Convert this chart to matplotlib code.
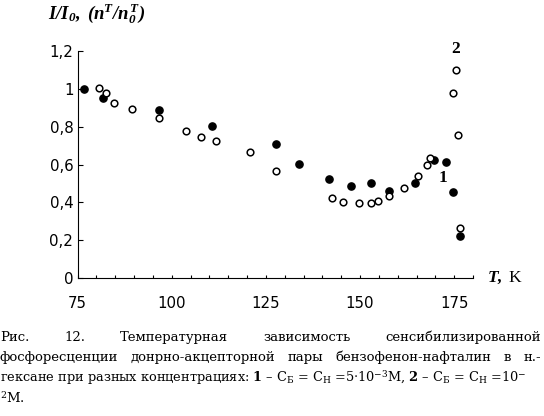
import numpy as np
import matplotlib
matplotlib.use("Agg")
import matplotlib.pyplot as plt
from matplotlib.ticker import MultipleLocator, FuncFormatter

plt.rcParams['mathtext.fontset'] = 'custom'
plt.rcParams['mathtext.rm'] = 'DejaVu Serif'
plt.rcParams['mathtext.bf'] = 'DejaVu Serif:bold'
plt.rcParams['mathtext.it'] = 'Liberation Serif:italic'
plt.rcParams['mathtext.bfit'] = 'Liberation Serif:italic:bold'

# series 1: C_B = C_N = 5e-3 M (filled)
T1 = np.array([76.6, 81.7, 96.5, 110.7, 127.6, 133.8, 141.8, 147.5, 152.8,
               157.7, 164.6, 169.7, 172.8, 174.7, 176.6])
I1 = np.array([1.00, 0.953, 0.889, 0.805, 0.707, 0.603, 0.526, 0.489, 0.505,
               0.459, 0.505, 0.626, 0.614, 0.453, 0.224])

# series 2: C_B = C_N = 1e-2 M (open)
T2 = np.array([80.8, 82.6, 84.6, 89.5, 96.5, 103.7, 107.7, 111.7, 120.7, 127.6,
               142.6, 145.6, 149.7, 152.8, 154.8, 157.7, 161.7, 165.5, 167.9,
               168.5, 174.7, 175.4, 175.9, 176.5])
I2 = np.array([1.005, 0.977, 0.926, 0.895, 0.844, 0.779, 0.747, 0.724, 0.665,
               0.565, 0.426, 0.405, 0.396, 0.396, 0.407, 0.433, 0.477, 0.537,
               0.600, 0.637, 0.977, 1.096, 0.758, 0.265])

fig = plt.figure(figsize=(5.44, 4.16), dpi=100)
ax = fig.add_axes([0.1425, 0.331, 0.727, 0.547])

ax.plot(T1, I1, 'o', color='black', ms=5.2, mec='black', zorder=3)
ax.plot(T2, I2, 'o', mfc='white', mec='black', ms=4.8, mew=1.1, zorder=4)

ax.set_xlim(75, 180)
ax.set_ylim(0, 1.2)
ax.xaxis.set_major_locator(MultipleLocator(25))
ax.xaxis.set_minor_locator(MultipleLocator(5))
ax.yaxis.set_major_locator(MultipleLocator(0.2))
ax.yaxis.set_major_formatter(FuncFormatter(lambda v, p: ('%g' % round(v, 1)).replace('.', ',')))
for s in ['top', 'right']:
    ax.spines[s].set_visible(False)
ax.tick_params(axis='x', which='both', direction='in', length=2.4, width=0.8,
               labelsize=10.8, pad=13)
ax.tick_params(axis='y', direction='in', length=3.6, width=0.8, labelsize=10.8, pad=3)

ax.text(175.4, 1.207, '2', fontsize=12.5, fontweight='bold', family='Liberation Serif',
        ha='center', va='center', clip_on=False)
ax.text(172.0, 0.528, '1', fontsize=12.5, fontweight='bold', family='Liberation Serif',
        ha='center', va='center')

fig.text(48 / 544, 1 - 14 / 416, r'$\mathbfit{I/I_0,\ (n^T/n_0^{\,T})}$',
         fontsize=13.5, ha='left', va='center')
fig.text(487 / 544, 1 - 278 / 416, r'$\mathbfit{T,}$ K', family='Liberation Serif',
         fontsize=12.5, ha='left', va='center')

# caption
cap_fs = 9.5
cap_font = 'DejaVu Serif'
r = fig.canvas.get_renderer()


def justify(words, ybase, width=541):
    texts = [fig.text(0, ybase, w, fontsize=cap_fs, family=cap_font,
                      va='baseline') for w in words]
    widths = [t.get_window_extent(r).width for t in texts]
    gap = (width - sum(widths)) / (len(words) - 1)
    x = 0
    for t, w in zip(texts, widths):
        t.set_x(x / fig.bbox.width)
        x += w + gap


justify(['Рис.', '12.', 'Температурная', 'зависимость', 'сенсибилизированной'],
        1 - 341 / 416)
justify(['фосфоресценции', 'донрно-акцепторной', 'пары', 'бензофенон-нафталин',
         'в', 'н.-'], 1 - 361 / 416)
fig.text(0, 1 - 382 / 416,
         r'гексане при разных концентрациях: $\mathbf{1}$ – С$_\mathrm{Б}$ = С$_\mathrm{Н}$'
         r' =5·10$^{\mathrm{-3}}$М, $\mathbf{2}$ – С$_\mathrm{Б}$ = С$_\mathrm{Н}$ =10$^{-}$',
         fontsize=9.3, family=cap_font, va='baseline')
fig.text(0, 1 - 403 / 416, r'$^{2}$М.', fontsize=cap_fs, family=cap_font,
         va='baseline')

fig.savefig('out.png', dpi=100)
